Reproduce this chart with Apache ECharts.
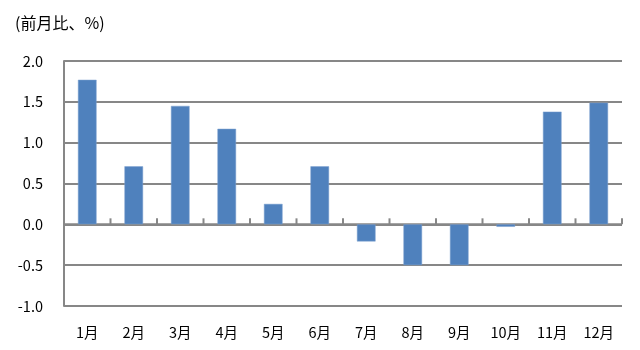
<!DOCTYPE html>
<html><head><meta charset="utf-8">
<script src="https://cdn.jsdelivr.net/npm/echarts@6/dist/echarts.min.js"></script>
<style>html,body{margin:0;padding:0;background:#fff}#c{width:640px;height:350px}</style>
</head><body><div id="c"></div>
<script>
const categories = ['1月','2月','3月','4月','5月','6月','7月','8月','9月','10月','11月','12月'];
const values = [1.77, 0.71, 1.45, 1.17, 0.25, 0.71, -0.21, -0.50, -0.50, -0.03, 1.38, 1.49];
const yTicks = {min: -1.0, max: 2.0, interval: 0.5};
const unitLabel = '(前月比、%)';

const font = '"Noto Sans CJK JP", sans-serif';
const axisGray = '#878787';

const chart = echarts.init(document.getElementById('c'));
chart.setOption({
  animation: false,
  backgroundColor: '#fff',
  title: {text: unitLabel, left: 10, top: 10, textStyle: {fontSize: 16, fontWeight: 'normal', color: '#000', fontFamily: font}},
  grid: {left: 64, right: 18, top: 61, bottom: 44, containLabel: false, outerBoundsMode: 'none'},
  xAxis: {
    type: 'category', data: categories, position: 'bottom',
    axisLine: {show: false, onZero: false}, axisTick: {show: false},
    axisLabel: {color: '#000', fontSize: 14.5, fontFamily: font, margin: 19, interval: 0}
  },
  yAxis: {
    type: 'value', min: yTicks.min, max: yTicks.max, interval: yTicks.interval,
    axisLine: {show: true, lineStyle: {color: axisGray, width: 2}},
    axisTick: {show: false},
    splitLine: {lineStyle: {color: axisGray, width: 2}},
    axisLabel: {color: '#000', fontSize: 14.5, fontFamily: font, margin: 21, formatter: v => v.toFixed(1)}
  },
  series: [{
    // zero axis line with category boundary ticks
    type: 'custom', z: 1, silent: true,
    data: categories.map((c, i) => [i, 0]),
    renderItem: function (params, api) {
      const p = api.coord([api.value(0), 0]);
      const w = api.size([1, 0])[0];
      const x0 = p[0] - w / 2, x1 = p[0] + w / 2, y = p[1];
      const style = {stroke: axisGray, lineWidth: 2};
      const children = [
        {type: 'line', shape: {x1: x0, y1: y, x2: x1, y2: y}, style: style},
        {type: 'line', shape: {x1: x0, y1: y, x2: x0, y2: y - 6}, style: style}
      ];
      if (params.dataIndex === categories.length - 1) {
        children.push({type: 'line', shape: {x1: x1, y1: y, x2: x1, y2: y - 6}, style: style});
      }
      return {type: 'group', children: children};
    }
  }, {
    type: 'bar', data: values, barWidth: '40%', z: 2,
    itemStyle: {color: '#4F81BD', borderColor: '#7FA3D0', borderWidth: 0.5}
  }]
});
</script></body></html>
